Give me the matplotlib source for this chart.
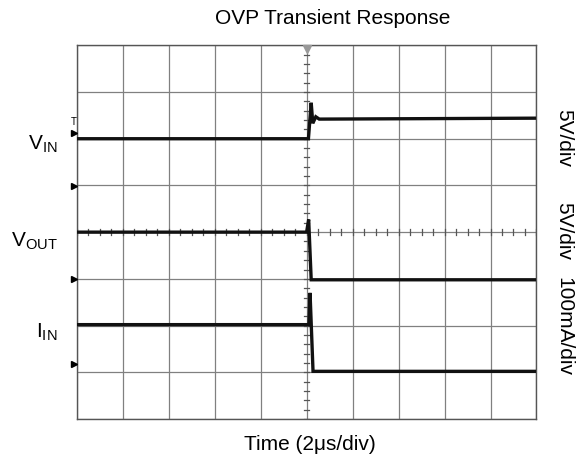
import matplotlib
matplotlib.use("Agg")
import matplotlib.pyplot as plt
import numpy as np

plt.rcParams['font.family'] = ['Liberation Sans', 'DejaVu Sans']
plt.rcParams['mathtext.fontset'] = 'custom'
plt.rcParams['mathtext.rm'] = 'Liberation Sans'
plt.rcParams['mathtext.it'] = 'Liberation Sans'

# ---- data (time in us, amplitude in screen divisions from bottom) ----
vin_t = [-10, 0.08, 0.20, 0.27, 0.40, 0.55, 10]
vin_v = [6.00, 6.00, 6.77, 6.33, 6.47, 6.42, 6.44]

vout_t = [-10, 0.00, 0.09, 0.20, 10]
vout_v = [4.00, 4.00, 4.27, 2.98, 2.98]

iin_t = [-10, 0.10, 0.15, 0.28, 10]
iin_v = [2.02, 2.02, 2.70, 1.02, 1.02]

ch_labels = [r'V$_{\mathrm{IN}}$', r'V$_{\mathrm{OUT}}$', r'I$_{\mathrm{IN}}$']
ch_label_pos = [5.88, 3.81, 1.86]
scale_labels = ['5V/div', '5V/div', '100mA/div']
scale_label_pos = [6.02, 4.03, 1.98]
ground_markers = [6.13, 4.99, 3.0, 1.18]

title = 'OVP Transient Response'
xlabel = 'Time (2\u03bcs/div)'

# ---- figure ----
fig = plt.figure(figsize=(5.86, 4.67), dpi=100)
ax = fig.add_axes([0.1309, 0.1028, 0.7846, 0.8002])
ax.set_xlim(-10, 10)
ax.set_ylim(0, 8)

grid_c = '#808080'
for xv in np.arange(-10, 11, 2):
    ax.axvline(xv, color=grid_c, lw=0.9, zorder=1)
for yv in range(0, 9):
    ax.axhline(yv, color=grid_c, lw=0.9, zorder=1)

# minor ticks on centre lines
for yv in np.arange(0, 8.01, 0.2):
    ax.plot([-0.12, 0.12], [yv, yv], color='#555555', lw=0.9, zorder=1)
for xv in np.arange(-10, 10.01, 0.5):
    ax.plot([xv, xv], [3.94, 4.06], color='#555555', lw=0.9, zorder=1)

for s in ax.spines.values():
    s.set_color('#555555')
    s.set_linewidth(1.0)
ax.set_xticks([])
ax.set_yticks([])

# traces
for t, v in [(vin_t, vin_v), (vout_t, vout_v), (iin_t, iin_v)]:
    ax.plot(t, v, color='#111111', lw=2.4, zorder=3, solid_joinstyle='miter')

# trigger marker
ax.plot([0], [7.93], marker='v', color='#999999', markersize=6, clip_on=False, zorder=4)

# ground markers
for gm in ground_markers:
    ax.plot([-10.1], [gm], marker='>', color='black', markersize=5, clip_on=False, zorder=4)
ax.text(-10.15, 6.36, 'T', fontsize=7, ha='center', va='center')

for lab, yp in zip(ch_labels, ch_label_pos):
    ax.text(-10.85, yp, lab, fontsize=15, ha='right', va='center')

for lab, yp in zip(scale_labels, scale_label_pos):
    ax.text(11.2, yp, lab, fontsize=15, ha='center', va='center', rotation=-90)

fig.text(333 / 586, 1 - 19 / 467, title, fontsize=15, ha='center', va='center')
fig.text(310 / 586, 1 - 444 / 467, xlabel, fontsize=15, ha='center', va='center')

fig.savefig('out.png', dpi=100)
